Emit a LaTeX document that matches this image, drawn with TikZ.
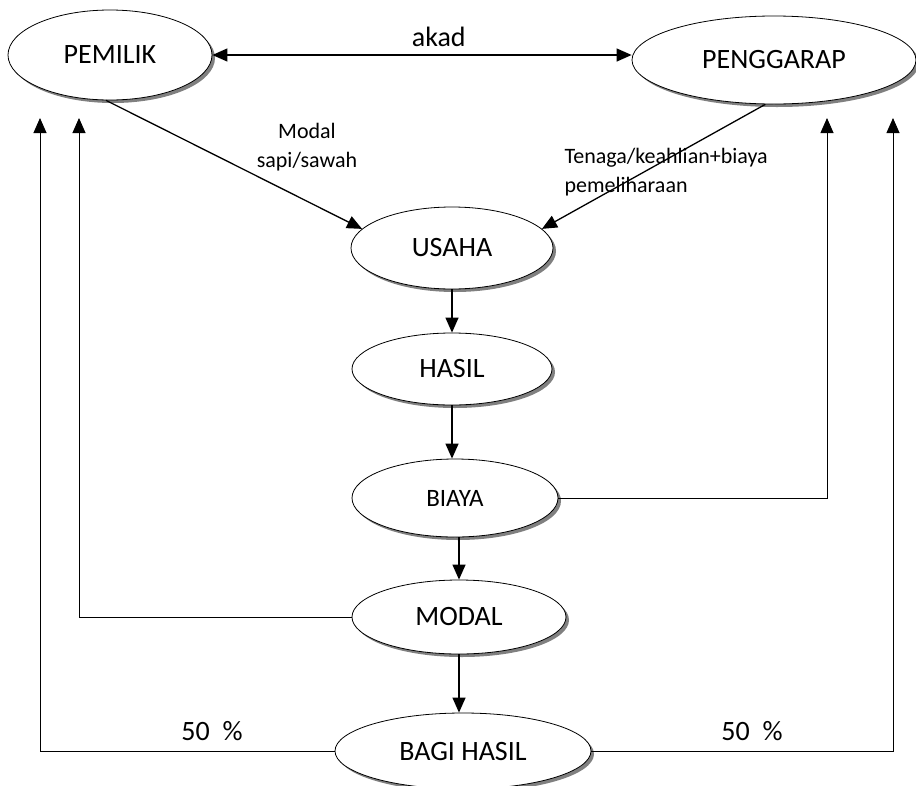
\documentclass[tikz,border=0pt]{standalone}
\usepackage{fontspec}
\setmainfont{Carlito}
\usetikzlibrary{shadows,arrows.meta,shapes.geometric}
\colorlet{shade edge}{black!50}
\tikzset{blob/.style={ellipse, draw, thick, fill=white, inner sep=0pt,
        drop shadow={shadow xshift=3pt, shadow yshift=-3pt, fill=shade edge, opacity=1},
        font=\fontsize{28}{30}\selectfont},
    flow/.style={line width=1.3pt, -{Triangle[width=13pt,length=15pt]}},
    both/.style={line width=1.3pt, {Triangle[width=13pt,length=15pt]}-{Triangle[width=13pt,length=15pt]}},
    back/.style={line width=0.9pt, -{Triangle[width=13pt,length=15pt]}},
    note/.style={font=\fontsize{22}{29}\selectfont}}

\begin{document}
\begin{tikzpicture}[x=1pt,y=-1pt]
     \useasboundingbox (0,0) rectangle (916,785);
     \node[blob, minimum width=204pt, minimum height=90pt] (pemilik) at (110,55) {PEMILIK};
     \node[blob, minimum width=284pt, minimum height=88pt] (penggarap) at (774,60) {PENGGARAP};
     \node[blob, minimum width=202pt, minimum height=82pt] (usaha) at (452,248) {USAHA};
     \node[blob, minimum width=200pt, minimum height=72pt] (hasil) at (452,369) {HASIL};
     \node[blob, minimum width=206pt, minimum height=78pt, font=\fontsize{25}{28}\selectfont] (biaya) at (455,498) {BIAYA};
     \node[blob, minimum width=214pt, minimum height=74pt] (modal) at (459,617) {MODAL};
     \node[blob, minimum width=256pt, minimum height=76pt] (bagi) at (463,751) {BAGI HASIL};
     % ends of the return arrows
     \coordinate (left a) at (40,118);
     \coordinate (left b) at (79,118);
     \coordinate (right a) at (827,118);
     \coordinate (right b) at (893,118);
     \draw[both] (pemilik.east) -- node[above=4pt, pos=0.54, font=\fontsize{28}{30}\selectfont] {akad} (penggarap.west |- pemilik.east);
     \draw[flow] (pemilik.265) -- (usaha.168);
     \draw[flow] (penggarap.259) -- (usaha.12);
     \node[note, align=center] (modal note) at (307,147) {Modal\\sapi/sawah};
     \node[note, align=left, anchor=west] (tenaga note) at (561,172) {Tenaga/keahlian+biaya\\pemeliharaan};
     \draw[flow] (usaha) -- (usaha |- hasil.north);
     \draw[flow] (hasil) -- (hasil |- biaya.north);
     \draw[flow] (modal |- biaya.south) -- (modal);
     \draw[flow] (modal) -- (modal |- bagi.north);
     \draw[back] (biaya.east) -| (right a);
     \draw[back] (modal.west) -| (left b);
     \draw[back] (bagi.west) -| (left a);
     \draw[back] (bagi.east) -| (right b);
     \node[font=\fontsize{28}{30}\selectfont] (left share) at (212,731) {50~~\%};
     \node[font=\fontsize{28}{30}\selectfont] (right share) at (752,731) {50~~\%};
 \end{tikzpicture}
\end{document}
